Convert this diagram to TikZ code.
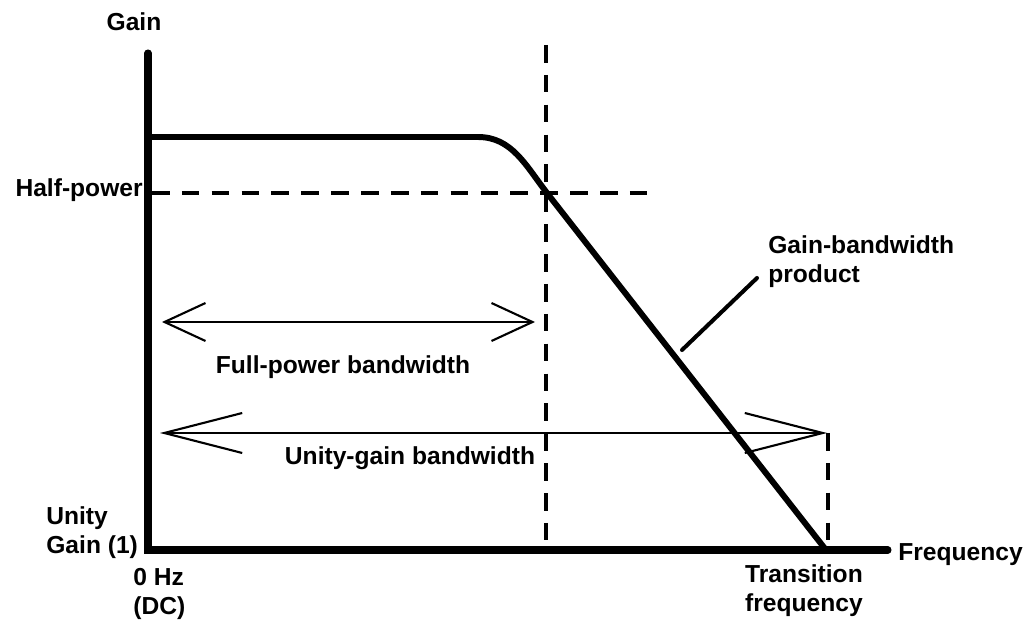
\documentclass[tikz,border=0pt]{standalone}
\usepackage{fontspec}
\setmainfont{Liberation Sans}
\usetikzlibrary{arrows.meta}

\begin{document}
\begin{tikzpicture}[x=0.02cm,y=-0.02cm,
  lbl/.style={font=\fontsize{14}{16.5}\selectfont\bfseries,inner sep=0pt},
  axis/.style={line width=4pt,line cap=round},
  resp/.style={line width=3.4pt},
  guide/.style={line width=2.3pt,dash pattern=on 10pt off 7pt},
  bw/.style={line width=1.2pt}]
\useasboundingbox (0,0) rectangle (1036,628);

\coordinate (ytop) at (148,53);
\coordinate (o) at (148,550);
\coordinate (xend) at (888,550);
\draw[axis] (ytop) -- (o) -- (xend);

\coordinate (flat) at (148,137);
\coordinate (knee) at (478,137);
\coordinate (hp) at (547,193);
\coordinate (ft) at (826,550);
\draw[resp] (flat) -- (knee) .. controls (512,137) and (526,166) .. (hp) -- (ft);

\coordinate (hpl) at (152,193);
\coordinate (hpr) at (648,193);
\coordinate (fctop) at (546,45);
\coordinate (fcbot) at (546,550);
\draw[guide] (hpl) -- (hpr);
\draw[guide] (fctop) -- (fcbot);

\coordinate (fpl) at (162,322);
\coordinate (fpr) at (535,322);
\draw[bw,{Straight Barb[length=0.82cm,width=0.76cm]}-{Straight Barb[length=0.82cm,width=0.76cm]}] (fpl) -- (fpr);

\coordinate (ugl) at (160,433);
\coordinate (ugr) at (827,433);
\coordinate (ugbot) at (828,550);
\draw[bw,{Straight Barb[length=1.56cm,width=0.8cm]}-{Straight Barb[length=1.56cm,width=0.8cm]}] (ugl) -- (ugr);
\draw[guide] (828,433) -- (ugbot);

\coordinate (gbpa) at (757,278);
\coordinate (gbpb) at (682,350);
\draw[line width=2.3pt,line cap=round] (gbpa) -- (gbpb);

\node[lbl] (gain) at (134,22) {Gain};
\node[lbl,anchor=east] (half) at (143,190) {Half-power};
\node[lbl] (fpbw) at (343,367) {Full-power bandwidth};
\node[lbl] (ugbw) at (410,458) {Unity-gain bandwidth};
\node[lbl,anchor=west,align=left] (gbp) at (768,262) {Gain-bandwidth\\product};
\node[lbl,anchor=west,align=left] (unity) at (46,533) {Unity\\Gain (1)};
\node[lbl,anchor=west,align=left] (dc) at (133,594) {0 Hz\\(DC)};
\node[lbl,anchor=west] (freq) at (898,555) {Frequency};
\node[lbl,align=center] (trans) at (804,591) {Transition\\frequency};

\end{tikzpicture}
\end{document}
